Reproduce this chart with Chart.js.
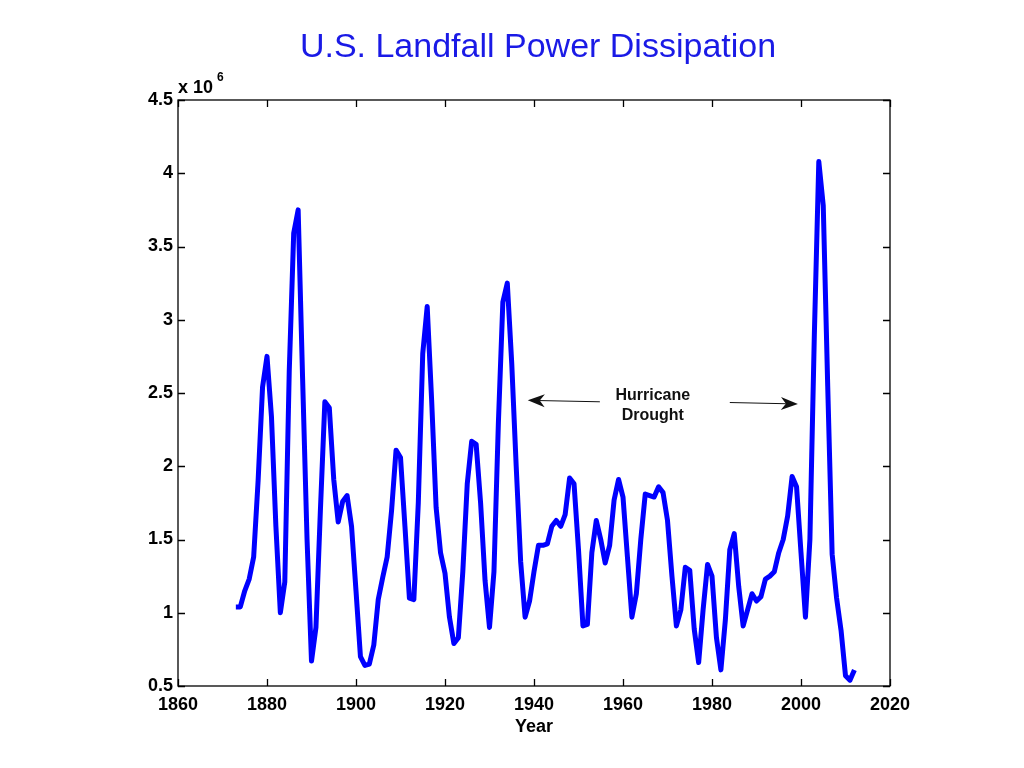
<!DOCTYPE html>
<html>
<head>
<meta charset="utf-8">
<script src="https://cdn.jsdelivr.net/npm/chart.js@4.4.0/dist/chart.umd.min.js"></script>
<style>
  html, body { margin: 0; padding: 0; background: #fff; }
  #wrap { width: 1024px; height: 768px; }
</style>
</head>
<body>
<div id="wrap"><canvas id="chart" width="1024" height="768"></canvas></div>
<script>
// ---- data (units of 10^6) ----
const firstYear = 1873;
const powerDissipation = [
  1.04, 1.04, 1.15, 1.23, 1.38, 1.90, 2.54, 2.75, 2.34, 1.59, // 1873-1882
  1.00, 1.21, 2.65, 3.59, 3.75, 2.60, 1.50, 0.67, 0.90, 1.70, // 1883-1892
  2.44, 2.40, 1.91, 1.62, 1.76, 1.80, 1.59, 1.15, 0.70, 0.64, // 1893-1902
  0.65, 0.78, 1.09, 1.24, 1.38, 1.70, 2.11, 2.06, 1.59, 1.10, // 1903-1912
  1.09, 1.75, 2.77, 3.09, 2.45, 1.72, 1.41, 1.27, 0.97, 0.79, // 1913-1922
  0.83, 1.28, 1.88, 2.17, 2.15, 1.75, 1.22, 0.90, 1.28, 2.30, // 1923-1932
  3.12, 3.25, 2.70, 2.00, 1.35, 0.97, 1.08, 1.28, 1.46, 1.46, // 1933-1942
  1.47, 1.59, 1.63, 1.59, 1.67, 1.92, 1.88, 1.43, 0.91, 0.92, // 1943-1952
  1.41, 1.63, 1.50, 1.34, 1.46, 1.77, 1.91, 1.79, 1.38, 0.97, // 1953-1962
  1.13, 1.50, 1.81, 1.80, 1.79, 1.86, 1.82, 1.63, 1.25, 0.91, // 1963-1972
  1.02, 1.31, 1.29, 0.89, 0.66, 1.02, 1.33, 1.25, 0.83, 0.61, // 1973-1982
  0.95, 1.43, 1.54, 1.18, 0.91, 1.02, 1.13, 1.08, 1.11, 1.23, // 1983-1992
  1.25, 1.28, 1.41, 1.50, 1.66, 1.93, 1.86, 1.41, 0.97, 1.50, // 1993-2002
  2.90, 4.08, 3.78, 2.55, 1.40, 1.10, 0.88, 0.57, 0.54, 0.61  // 2003-2012
];
const years = powerDissipation.map((_, i) => firstYear + i);

const xTicks = [1860, 1880, 1900, 1920, 1940, 1960, 1980, 2000, 2020];
const yTicks = [0.5, 1, 1.5, 2, 2.5, 3, 3.5, 4, 4.5];

const titleText = "U.S. Landfall Power Dissipation";
const xAxisLabel = "Year";
const noteLines = ["Hurricane", "Drought"];

const FONT = "'Liberation Sans', Arial, Helvetica, sans-serif";

// draw a thin arrow with a MATLAB style filled head
function arrow(ctx, x0, y0, x1, y1) {
  const ang = Math.atan2(y1 - y0, x1 - x0);
  const len = 17, half = 6.5, back = 12;
  ctx.beginPath();
  ctx.moveTo(x0, y0);
  ctx.lineTo(x1 - Math.cos(ang) * back, y1 - Math.sin(ang) * back);
  ctx.stroke();
  ctx.save();
  ctx.translate(x1, y1);
  ctx.rotate(ang);
  ctx.beginPath();
  ctx.moveTo(0, 0);
  ctx.lineTo(-len, -half);
  ctx.lineTo(-back, 0);
  ctx.lineTo(-len, half);
  ctx.closePath();
  ctx.fill();
  ctx.restore();
}

// frame, inward ticks, title, labels, annotation
const matlabFrame = {
  id: "matlabFrame",
  afterDraw(chart) {
    const { ctx, chartArea: a, scales: { x, y } } = chart;
    ctx.save();
    ctx.strokeStyle = "#000";
    ctx.lineWidth = 1.3;
    ctx.strokeRect(a.left, a.top, a.right - a.left, a.bottom - a.top);

    const tl = 7;
    ctx.beginPath();
    xTicks.forEach(v => {
      const px = Math.round(x.getPixelForValue(v)) + 0.5;
      ctx.moveTo(px, a.bottom); ctx.lineTo(px, a.bottom - tl);
      ctx.moveTo(px, a.top); ctx.lineTo(px, a.top + tl);
    });
    yTicks.forEach(v => {
      const py = Math.round(y.getPixelForValue(v)) + 0.5;
      ctx.moveTo(a.left, py); ctx.lineTo(a.left + tl, py);
      ctx.moveTo(a.right, py); ctx.lineTo(a.right - tl, py);
    });
    ctx.stroke();

    // title
    ctx.fillStyle = "#1a1ae6";
    ctx.font = "34px " + FONT;
    ctx.textAlign = "center";
    ctx.textBaseline = "alphabetic";
    ctx.fillText(titleText, 538, 57);

    // x label
    ctx.fillStyle = "#000";
    ctx.font = "bold 18px " + FONT;
    ctx.fillText(xAxisLabel, 534, 732);

    // exponent
    ctx.textAlign = "left";
    ctx.fillText("x 10", a.left, 93);
    ctx.font = "bold 12px " + FONT;
    ctx.fillText("6", a.left + 39, 81);

    // hurricane drought note
    ctx.font = "bold 16px " + FONT;
    ctx.fillStyle = "#111";
    ctx.textAlign = "center";
    const nx = x.getPixelForValue(1966.7);
    ctx.fillText(noteLines[0], nx, y.getPixelForValue(2.49) + 6);
    ctx.fillText(noteLines[1], nx, y.getPixelForValue(2.36) + 6);

    ctx.strokeStyle = "#111";
    ctx.lineWidth = 1;
    arrow(ctx, x.getPixelForValue(1954.8), y.getPixelForValue(2.44),
               x.getPixelForValue(1938.6), y.getPixelForValue(2.45));
    arrow(ctx, x.getPixelForValue(1984.0), y.getPixelForValue(2.435),
               x.getPixelForValue(1999.3), y.getPixelForValue(2.425));
    ctx.restore();
  }
};

new Chart(document.getElementById("chart").getContext("2d"), {
  type: "line",
  data: {
    datasets: [{
      label: "Power dissipation",
      data: years.map((yr, i) => ({ x: yr, y: powerDissipation[i] })),
      borderColor: "#0000ff",
      borderWidth: 5,
      borderJoinStyle: "round",
      borderCapStyle: "butt",
      pointRadius: 0,
      tension: 0,
      fill: false
    }]
  },
  options: {
    responsive: false,
    animation: false,
    devicePixelRatio: 1,
    layout: { padding: { left: 0, top: 100, right: 134, bottom: 0 } },
    plugins: { legend: { display: false }, tooltip: { enabled: false }, title: { display: false } },
    scales: {
      x: {
        type: "linear",
        min: 1860, max: 2020,
        afterFit: s => { s.height = 82; },
        afterBuildTicks: s => { s.ticks = xTicks.map(v => ({ value: v })); },
        grid: { display: false, drawTicks: false },
        border: { display: false },
        ticks: {
          autoSkip: false, maxRotation: 0, padding: 8, color: "#000",
          font: { family: FONT, size: 18, weight: "bold" },
          callback: v => String(v)
        }
      },
      y: {
        min: 0.5, max: 4.5,
        afterFit: s => { s.width = 178; },
        afterBuildTicks: s => { s.ticks = yTicks.map(v => ({ value: v })); },
        grid: { display: false, drawTicks: false },
        border: { display: false },
        ticks: {
          autoSkip: false, padding: 5, color: "#000",
          font: { family: FONT, size: 18, weight: "bold" },
          callback: v => String(v)
        }
      }
    }
  },
  plugins: [matlabFrame]
});
</script>
</body>
</html>
